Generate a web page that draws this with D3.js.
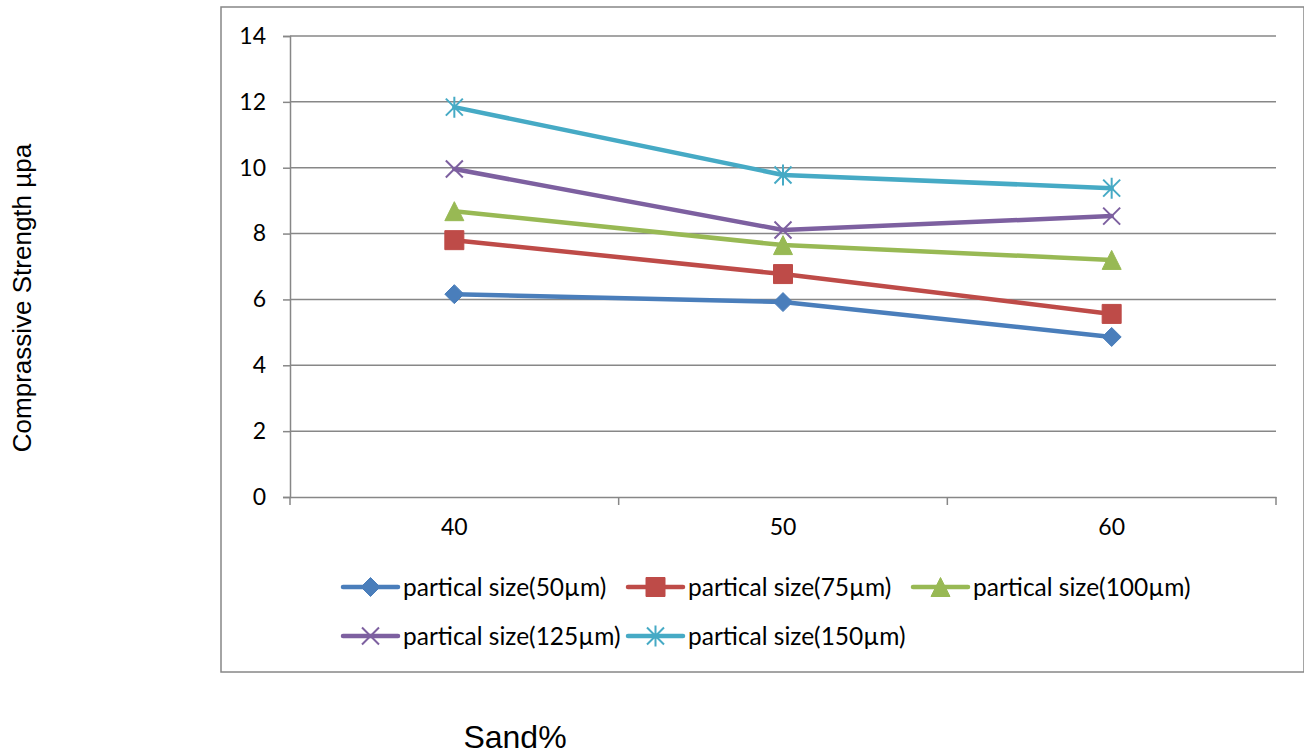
<!DOCTYPE html>
<html><head><meta charset="utf-8">
<script src="https://cdn.jsdelivr.net/npm/d3@7"></script>
<style>body{margin:0;background:#fff}svg{display:block}</style>
</head><body>
<svg id="c" width="1304" height="754"></svg>
<script>
const categories = ["40","50","60"];
const seriesNames = ["partical size(50µm)","partical size(75µm)","partical size(100µm)","partical size(125µm)","partical size(150µm)"];
const s50  = [6.16, 5.92, 4.86];
const s75  = [7.80, 6.77, 5.56];
const s100 = [8.68, 7.65, 7.20];
const s125 = [9.96, 8.11, 8.53];
const s150 = [11.84, 9.78, 9.38];
const yTicks = [0,2,4,6,8,10,12,14];
const colors = ["#4A7EBB","#BE4B48","#98B954","#7D60A0","#46AAC5"];
const markers = ["diamond","square","triangle","x","star"];
const seriesValues = [s50,s75,s100,s125,s150];

const svg = d3.select("#c");
const gridColor = "#878787";
const L = 290, R = 1276, T = 36, B = 497;

// outer frame
svg.append("rect").attr("x",221).attr("y",7).attr("width",1083).attr("height",665)
  .attr("fill","none").attr("stroke",gridColor).attr("stroke-width",1.5);

const x = d3.scaleBand().domain(categories).range([L,R]);
const y = d3.scaleLinear().domain([0,14]).range([B,T]);

// gridlines
svg.append("g").selectAll("line").data(yTicks.filter(d=>d>0)).join("line")
  .attr("x1",L).attr("x2",R).attr("y1",d=>y(d)).attr("y2",d=>y(d))
  .attr("stroke",gridColor).attr("stroke-width",1.5);

// y axis
const ya = svg.append("g").attr("transform",`translate(${L},0)`)
  .call(d3.axisLeft(y).tickValues(yTicks).tickSize(7).tickPadding(17).tickFormat(d3.format("d")));
ya.select(".domain").attr("stroke",gridColor).attr("stroke-width",1.5);
ya.selectAll(".tick line").attr("stroke",gridColor).attr("stroke-width",1.5);
ya.selectAll("text").attr("font-family","Lato").attr("font-size",23).attr("fill","#000");

// x axis
const xa = svg.append("g").attr("transform",`translate(0,${B})`)
  .call(d3.axisBottom(x).tickSize(0).tickPadding(22));
xa.select(".domain").attr("stroke",gridColor).attr("stroke-width",1.5);
xa.selectAll("text").attr("font-family","Lato").attr("font-size",23).attr("fill","#000");
// category boundary ticks
const bounds = categories.map(c=>x(c)).concat([x(categories[categories.length-1])+x.bandwidth()]);
xa.append("g").selectAll("line").data(bounds).join("line")
  .attr("x1",d=>d).attr("x2",d=>d).attr("y1",0).attr("y2",8)
  .attr("stroke",gridColor).attr("stroke-width",1.5);

function markerPath(type, s){
  const h = s/2;
  switch(type){
    case "diamond": return `M0,${-h}L${h},0L0,${h}L${-h},0Z`;
    case "square": return `M${-h},${-h}H${h}V${h}H${-h}Z`;
    case "triangle": return `M0,${-h}L${h},${h}H${-h}Z`;
    case "x": return `M${-h},${-h}L${h},${h}M${h},${-h}L${-h},${h}`;
    case "star": return `M${-h},${-h}L${h},${h}M${h},${-h}L${-h},${h}M0,${-h-2}V${h+2}`;
  }
}
function drawMarker(g, type, color, s){
  const filled = (type==="diamond"||type==="square"||type==="triangle");
  g.append("path").attr("d",markerPath(type,s))
    .attr("fill",filled?color:"none").attr("stroke",color)
    .attr("stroke-width",filled?1:2);
}

const line = d3.line().x((d,i)=>x(categories[i])+x.bandwidth()/2).y(d=>y(d));
const sizes = {diamond:19, square:19, triangle:19, x:17, star:17};

seriesValues.forEach((vals,k)=>{
  const g = svg.append("g");
  g.append("path").datum(vals).attr("d",line).attr("fill","none")
    .attr("stroke",colors[k]).attr("stroke-width",4.5).attr("stroke-linejoin","round").attr("stroke-linecap","round");
  vals.forEach((v,i)=>{
    const mg = g.append("g").attr("transform",`translate(${x(categories[i])+x.bandwidth()/2},${y(v)})`);
    drawMarker(mg, markers[k], colors[k], sizes[markers[k]]);
  });
});

// legend
const legPos = [[343,587],[628,587],[913,587],[343,636],[628,636]];
seriesNames.forEach((name,k)=>{
  const [lx,ly] = legPos[k];
  const g = svg.append("g").attr("transform",`translate(${lx},${ly})`);
  g.append("line").attr("x1",0).attr("x2",55).attr("y1",0).attr("y2",0)
    .attr("stroke",colors[k]).attr("stroke-width",4.5).attr("stroke-linecap","round");
  const mg = g.append("g").attr("transform","translate(27.5,0)");
  drawMarker(mg, markers[k], colors[k], sizes[markers[k]]);
  g.append("text").attr("x",60).attr("y",0).attr("dy","0.35em")
    .attr("font-family","Lato").attr("font-size",24.5).attr("fill","#000").text(name);
});

// axis titles
svg.append("text").attr("transform","translate(31,298) rotate(-90)")
  .attr("text-anchor","middle").attr("font-family","Liberation Sans").attr("font-size",26)
  .attr("fill","#000").text("Comprassive Strength µpa");
svg.append("text").attr("x",515).attr("y",748).attr("text-anchor","middle")
  .attr("font-family","Liberation Sans").attr("font-size",32).attr("fill","#000").text("Sand%");
</script>
</body></html>
